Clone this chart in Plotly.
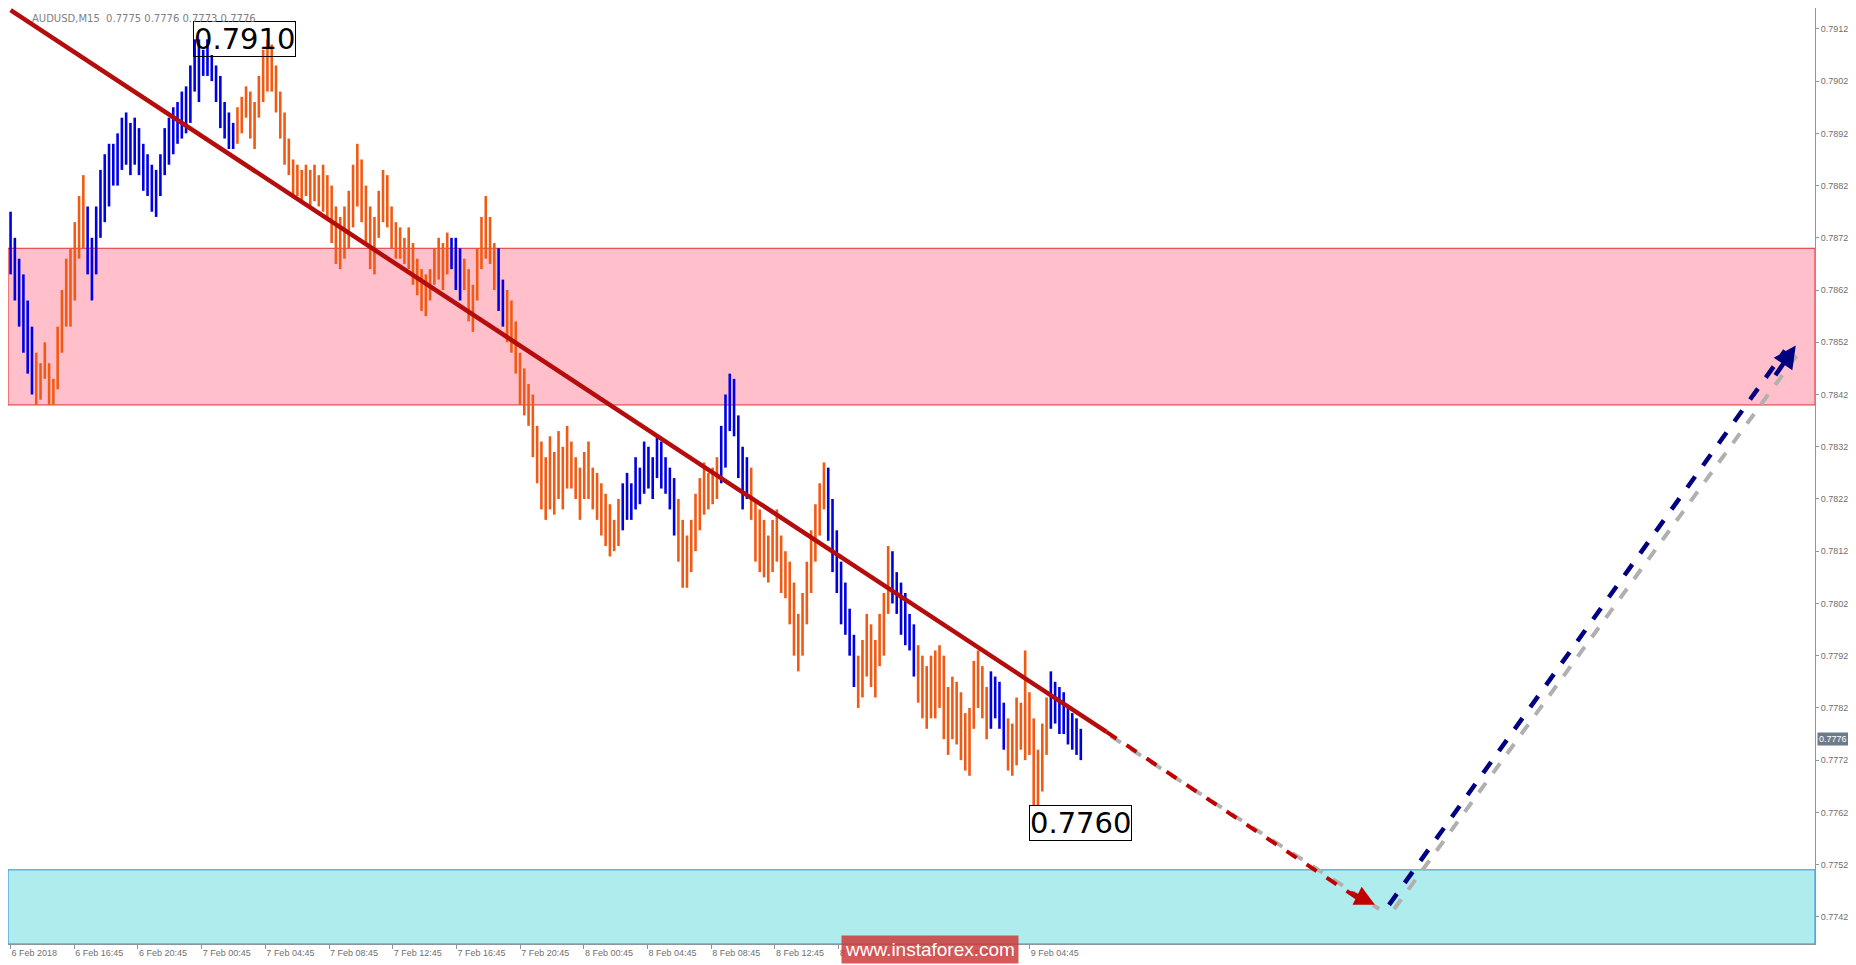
import plotly.graph_objects as go

# bar highs / lows in pips above 0.7700, and swing colour per bar
highs = [177,172,168,165,160,155,150,148,152,148,145,155,162,168,170,175,180,184,178,172,
         178,185,188,190,190,192,195,196,194,195,193,190,188,186,185,188,193,195,197,198,
         200,201,205,210,210,208,210,207,205,203,198,196,194,197,199,201,200,198,203,208,
         210,209,205,200,196,191,187,186,185,186,185,186,184,186,184,182,178,176,178,181,
         186,190,187,182,178,176,181,185,184,178,175,174,172,174,171,168,166,165,166,170,
         172,171,173,172,172,170,168,166,163,170,176,180,176,171,170,164,162,160,156,150,
         147,144,142,136,133,130,134,131,135,132,136,133,130,128,131,133,128,127,125,123,
         121,118,122,125,127,125,130,128,133,132,130,134,133,130,128,126,122,118,115,118,
         123,126,129,127,128,130,136,142,146,145,138,132,130,128,122,120,118,115,118,120,
         115,112,110,106,100,104,110,116,121,125,129,128,122,116,110,106,101,96,92,95,
         100,98,95,100,104,113,112,108,106,104,100,98,94,92,90,92,93,94,92,86,
         88,87,85,81,82,91,93,90,86,89,88,87,83,80,79,84,83,93,85,80,
         74,79,84,89,87,86,85,82,81,80,78]
lows = [165,160,155,150,146,142,140,141,145,140,140,143,150,155,155,160,168,170,165,160,
        165,172,175,178,182,182,185,186,184,186,184,181,180,177,176,180,184,186,188,190,
        191,192,194,200,198,203,203,202,198,193,191,189,189,190,192,195,191,189,195,198,
        200,200,196,191,186,184,180,180,179,180,178,179,178,177,176,171,167,166,168,170,
        174,178,175,171,166,165,172,175,174,170,168,168,167,166,163,161,158,157,160,163,
        164,162,165,166,162,160,162,156,154,160,166,168,167,162,158,155,152,150,146,140,
        138,136,130,125,120,118,120,119,122,120,124,124,122,118,122,122,120,118,115,113,
        111,112,113,116,118,118,120,121,123,124,122,126,124,123,120,115,110,105,105,108,
        112,116,119,120,121,122,125,128,135,134,126,120,122,118,110,108,107,106,108,110,
        104,103,98,92,89,92,98,104,110,115,120,114,108,104,98,96,92,86,82,84,
        88,86,84,90,92,100,102,100,96,94,93,88,83,80,78,80,80,82,76,73,
        76,75,72,70,69,78,82,80,76,78,80,78,74,70,69,71,74,72,73,60,
        61,66,73,78,79,77,77,75,74,73,72]
colors = ("bbbbbboooooooooooo" + "b" * 35 + "o" * 50 + "bbboooooooobb" + "o" * 27 +
          "b" * 13 + "o" * 10 + "b" * 7 + "o" * 18 + "b" * 7 + "o" * 8 + "b" * 6 +
          "o" * 17 + "bbbb" + "o" * 10 + "b" * 9)

time_labels = ["6 Feb 2018", "6 Feb 16:45", "6 Feb 20:45", "7 Feb 00:45", "7 Feb 04:45",
               "7 Feb 08:45", "7 Feb 12:45", "7 Feb 16:45", "7 Feb 20:45", "8 Feb 00:45",
               "8 Feb 04:45", "8 Feb 08:45", "8 Feb 12:45", "8 Feb 16:45", "8 Feb 20:45",
               "9 Feb 00:45", "9 Feb 04:45"]
price_ticks = [0.7742, 0.7752, 0.7762, 0.7772, 0.7782, 0.7792, 0.7802, 0.7812, 0.7822,
               0.7832, 0.7842, 0.7852, 0.7862, 0.7872, 0.7882, 0.7892, 0.7902, 0.7912]

resist_zone = (0.7840, 0.7870)
support_zone = (0.77368, 0.7751)
trend_start = (0, 0.79156)
trend_mid = (256, 0.77774)
trend_end = (318.7, 0.77443)
up_start = (322, 0.77443)
up_end = (417, 0.78514)
last_price = 0.7776

BLUE = "#0000e6"
ORANGE = "#f25a14"
TICK_STEP = 14.88
AXIS_FONT = dict(family="Liberation Sans", size=9, color="#707070")

fig = go.Figure()

# pink / cyan zones
fig.add_shape(type="rect", x0=-0.6, x1=421.5, y0=resist_zone[0], y1=resist_zone[1],
              fillcolor="#ffc0cb", line=dict(color="#e03030", width=1), layer="below")
fig.add_shape(type="rect", x0=-0.6, x1=421.5, y0=support_zone[0], y1=support_zone[1],
              fillcolor="#afecee", line=dict(color="#3090d0", width=1), layer="below")

for c, col in (("b", BLUE), ("o", ORANGE)):
    xs, ys = [], []
    for i, (h, l) in enumerate(zip(highs, lows)):
        if i < len(colors) and colors[i] == c or (i >= len(colors) and c == "b"):
            xs += [i, i, None]
            ys += [0.77 + l / 10000, 0.77 + h / 10000, None]
    fig.add_trace(go.Scatter(x=xs, y=ys, mode="lines", line=dict(color=col, width=2.6),
                             hoverinfo="skip", showlegend=False))

# trend lines
fig.add_trace(go.Scatter(x=[trend_start[0], trend_mid[0]], y=[trend_start[1], trend_mid[1]],
                         mode="lines", line=dict(color="#b50c0c", width=4.5), showlegend=False))
fig.add_trace(go.Scatter(x=[trend_mid[0] + 1, trend_end[0] + 1],
                         y=[trend_mid[1] - 0.00008, trend_end[1] - 0.00008],
                         mode="lines", line=dict(color="#b0b0b0", width=4, dash="dash"),
                         showlegend=False))
fig.add_trace(go.Scatter(x=[trend_mid[0], trend_end[0] - 3], y=[trend_mid[1], trend_end[1] + 0.00007],
                         mode="lines", line=dict(color="#c00000", width=4, dash="dash"),
                         showlegend=False))
fig.add_trace(go.Scatter(x=[up_start[0] + 1.2, up_end[0] + 1.2],
                         y=[up_start[1] - 0.00008, up_end[1] - 0.00008],
                         mode="lines", line=dict(color="#b0b0b0", width=4, dash="dash"),
                         showlegend=False))
fig.add_trace(go.Scatter(x=[up_start[0], up_end[0] - 2.5], y=[up_start[1], up_end[1] - 0.0001],
                         mode="lines", line=dict(color="#000080", width=4.5, dash="dash"),
                         showlegend=False))
fig.add_annotation(x=trend_end[0], y=trend_end[1], ax=trend_end[0] - 6, ay=trend_end[1] + 0.00025,
                   xref="x", yref="y", axref="x", ayref="y", text="", showarrow=True,
                   arrowhead=2, arrowsize=1, arrowwidth=4, arrowcolor="#c00000")
fig.add_annotation(x=up_end[0], y=up_end[1], ax=up_end[0] - 5, ay=up_end[1] - 0.0006,
                   xref="x", yref="y", axref="x", ayref="y", text="", showarrow=True,
                   arrowhead=2, arrowsize=1, arrowwidth=4.5, arrowcolor="#000080")

# extreme labels
fig.add_annotation(x=42.7, y=0.7910, text="0.7910", showarrow=False, xanchor="left",
                   font=dict(family="DejaVu Sans", size=29, color="black"),
                   bordercolor="black", borderwidth=1, bgcolor="rgba(255,255,255,0)", borderpad=0)
fig.add_annotation(x=237.8, y=0.7760, text="0.7760", showarrow=False, xanchor="left",
                   font=dict(family="DejaVu Sans", size=29, color="black"),
                   bordercolor="black", borderwidth=1, bgcolor="white", borderpad=0)

fig.add_annotation(x=0.012, y=0.997, xref="paper", yref="paper", xanchor="left", yanchor="top",
                   text="AUDUSD,M15  0.7775 0.7776 0.7773 0.7776", showarrow=False,
                   font=dict(family="DejaVu Sans", size=10, color="#808080"))
fig.add_annotation(x=1.001, y=last_price, yref="y", xref="paper", xanchor="left",
                   text="0.7776", showarrow=False, bgcolor="#6d7b88",
                   font=dict(family="Liberation Sans", size=9, color="white"), borderpad=1)
fig.add_annotation(x=0.51, y=-0.006, xref="paper", yref="paper", text="www.instaforex.com",
                   showarrow=False, bgcolor="rgba(204,60,60,0.85)", borderpad=3, yanchor="middle",
                   font=dict(family="Liberation Sans", size=19, color="white"))

fig.update_layout(
    width=1848, height=957, plot_bgcolor="white", paper_bgcolor="white",
    margin=dict(l=0, r=41, t=0, b=21),
    xaxis=dict(range=[-0.6, 421.5], tickvals=[k * TICK_STEP for k in range(len(time_labels))],
               ticktext=time_labels, ticks="outside", ticklen=4, tickcolor="#8a96a0",
               ticklabelposition="outside right", automargin=False,
               showgrid=False, zeroline=False, showline=True, linecolor="#8a96a0", mirror=True,
               tickfont=AXIS_FONT),
    yaxis=dict(range=[0.77368, 0.79160], side="right", tickvals=price_ticks,
               ticktext=[f"{v:.4f}" for v in price_ticks], ticks="outside", ticklen=3,
               tickcolor="#8a96a0", showgrid=False, zeroline=False, showline=True,
               linecolor="#8a96a0", mirror=True, automargin=False, tickfont=AXIS_FONT),
)

fig.write_html("out.html")
